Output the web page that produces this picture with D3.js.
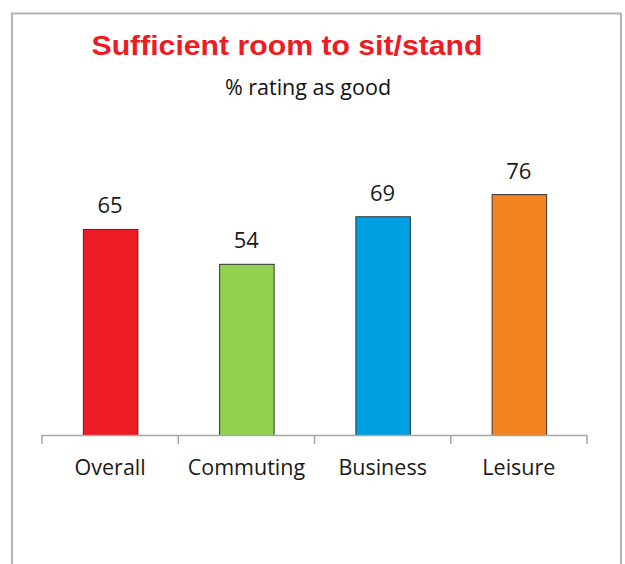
<!DOCTYPE html>
<html>
<head>
<meta charset="utf-8">
<script src="https://cdn.jsdelivr.net/npm/d3@7"></script>
<style>
  body { margin: 0; background: #fff; }
  svg { display: block; }
</style>
</head>
<body>
<svg width="625" height="564"></svg>
<script>
(function() {
  var categories = ["Overall", "Commuting", "Business", "Leisure"];
  var values = [65, 54, 69, 76];
  var colors = ["#ED1C24", "#92D050", "#00A0E2", "#F58220"];

  var svg = d3.select("svg");
  var labelFont = "'Open Sans', Lato, sans-serif";

  // outer frame (no bottom edge)
  svg.append("path")
      .attr("d", "M12,564 V13.5 H621 V564")
      .attr("fill", "none")
      .attr("stroke", "#b4b4b4")
      .attr("stroke-width", 2);

  svg.append("text")
      .attr("x", 287).attr("y", 55)
      .attr("text-anchor", "middle")
      .attr("textLength", 391)
      .attr("lengthAdjust", "spacingAndGlyphs")
      .style("font-family", "Arial, 'Liberation Sans', sans-serif")
      .style("font-weight", "bold")
      .style("font-size", "28px")
      .style("fill", "#ED1C24")
      .text("Sufficient room to sit/stand");

  svg.append("text")
      .attr("x", 308).attr("y", 95)
      .attr("text-anchor", "middle")
      .style("font-family", labelFont)
      .style("font-size", "21.5px")
      .style("fill", "#111")
      .text("% rating as good");

  var x = d3.scaleBand()
      .domain(categories)
      .range([42, 587])
      .paddingInner(0.6)
      .paddingOuter(0.3);

  var y = d3.scaleLinear()
      .domain([0, 100])
      .range([435.5, 118.5]);

  var bars = svg.selectAll("g.bar")
    .data(values)
    .enter().append("g")
      .attr("class", "bar");

  bars.append("rect")
      .attr("x", function(d, i) { return x(categories[i]) + 0.5; })
      .attr("y", function(d) { return y(d); })
      .attr("width", x.bandwidth())
      .attr("height", function(d) { return y(0) - y(d); })
      .style("fill", function(d, i) { return colors[i]; })
      .style("stroke", "#333")
      .style("stroke-width", 1);

  bars.append("text")
      .attr("x", function(d, i) { return x(categories[i]) + x.bandwidth() / 2; })
      .attr("y", function(d) { return y(d) - 16; })
      .attr("text-anchor", "middle")
      .style("font-family", labelFont)
      .style("font-size", "22px")
      .style("fill", "#1a1a1a")
      .text(function(d) { return d; });

  // category axis with boundary ticks
  var step = (587 - 42) / categories.length;
  var axis = svg.append("g").attr("class", "axis");
  axis.append("line")
      .attr("x1", 42).attr("x2", 587)
      .attr("y1", 435.5).attr("y2", 435.5)
      .attr("stroke", "#a6a6a6").attr("stroke-width", 1.5);
  axis.selectAll("line.tick")
    .data(d3.range(categories.length + 1))
    .enter().append("line")
      .attr("class", "tick")
      .attr("x1", function(i) { return 42 + i * step; })
      .attr("x2", function(i) { return 42 + i * step; })
      .attr("y1", 435).attr("y2", 444)
      .attr("stroke", "#a6a6a6").attr("stroke-width", 1.5);
  axis.selectAll("text")
    .data(categories)
    .enter().append("text")
      .attr("x", function(d) { return x(d) + x.bandwidth() / 2; })
      .attr("y", 475)
      .attr("text-anchor", "middle")
      .style("font-family", labelFont)
      .style("font-size", "21.5px")
      .style("fill", "#1a1a1a")
      .text(function(d) { return d; });
})();
</script>
</body>
</html>
